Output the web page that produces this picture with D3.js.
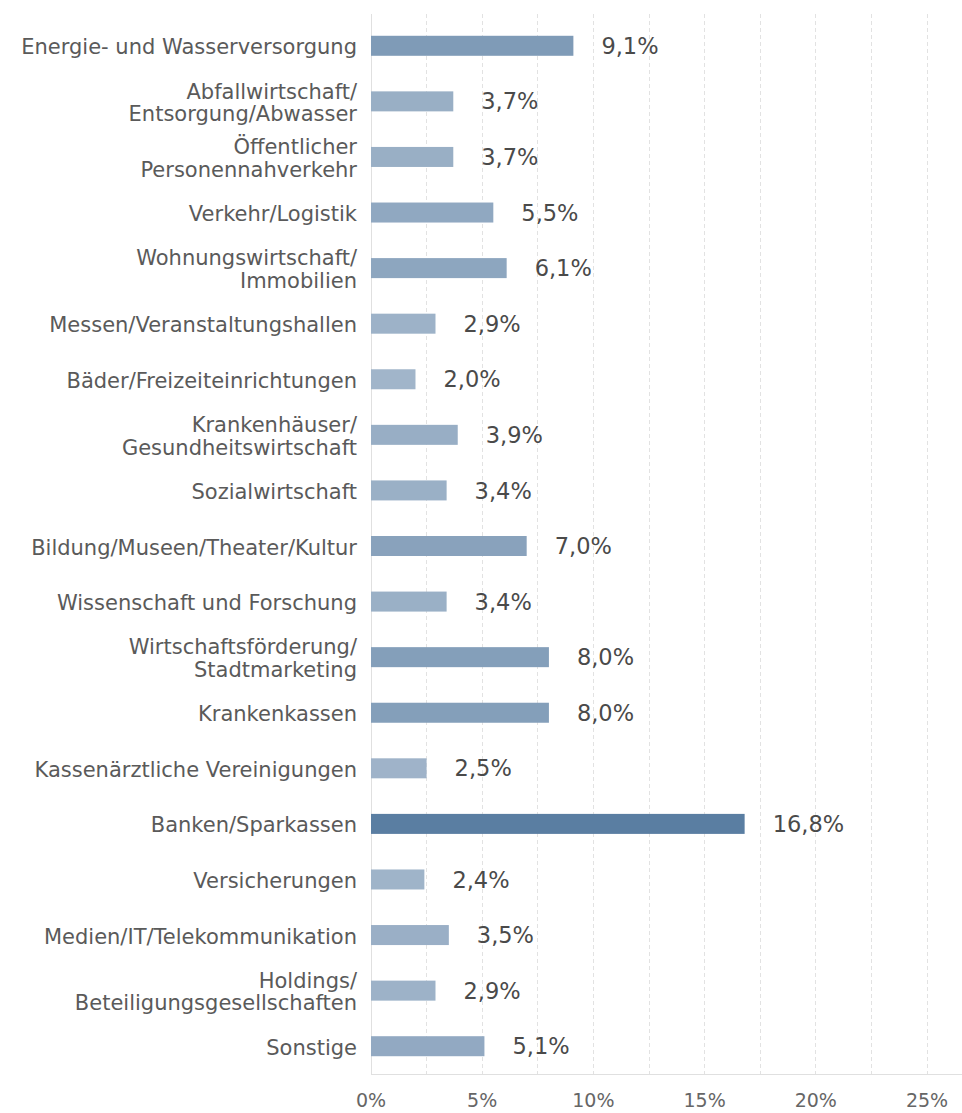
<!DOCTYPE html>
<html><head><meta charset="utf-8">
<script src="https://cdn.jsdelivr.net/npm/d3@7"></script>
<style>body{margin:0;background:#fff;} svg{display:block;}</style>
</head><body>
<svg id="c" width="962" height="1113"></svg>
<script>
const categories = [
  "Energie- und Wasserversorgung",
  "Abfallwirtschaft/\nEntsorgung/Abwasser",
  "Öffentlicher\nPersonennahverkehr",
  "Verkehr/Logistik",
  "Wohnungswirtschaft/\nImmobilien",
  "Messen/Veranstaltungshallen",
  "Bäder/Freizeiteinrichtungen",
  "Krankenhäuser/\nGesundheitswirtschaft",
  "Sozialwirtschaft",
  "Bildung/Museen/Theater/Kultur",
  "Wissenschaft und Forschung",
  "Wirtschaftsförderung/\nStadtmarketing",
  "Krankenkassen",
  "Kassenärztliche Vereinigungen",
  "Banken/Sparkassen",
  "Versicherungen",
  "Medien/IT/Telekommunikation",
  "Holdings/\nBeteiligungsgesellschaften",
  "Sonstige"
];
const values = [9.1, 3.7, 3.7, 5.5, 6.1, 2.9, 2.0, 3.9, 3.4, 7.0, 3.4, 8.0, 8.0, 2.5, 16.8, 2.4, 3.5, 2.9, 5.1];
const tickValues = [0, 5, 10, 15, 20, 25];
const gridValues = [2.5, 5, 7.5, 10, 12.5, 15, 17.5, 20, 22.5, 25];

const FONT = "'DejaVu Sans', 'Open Sans', sans-serif";
const svg = d3.select("#c");
const m = {left: 371, right: 962, top: 18, bottom: 1074};

const x = d3.scaleLinear().domain([0, 25]).range([m.left, 927]);
const y = d3.scaleBand().domain(categories).range([m.top, m.bottom]).paddingInner(0.64).paddingOuter(0.32);
const color = d3.scaleLinear().domain([d3.min(values), d3.max(values)]).range(["#a1b5ca", "#5a7ea2"]);

const data = categories.map((c, i) => ({c, v: values[i]}));

// grid
svg.append("g").selectAll("line").data(gridValues).join("line")
  .attr("x1", d => x(d)).attr("x2", d => x(d))
  .attr("y1", 14).attr("y2", m.bottom)
  .attr("stroke", "#e2e2e2").attr("stroke-width", 1).attr("stroke-dasharray", "4,3")
  .attr("shape-rendering", "crispEdges");
// zero line & bottom line
svg.append("line").attr("x1", x(0)).attr("x2", x(0)).attr("y1", 14).attr("y2", m.bottom)
  .attr("stroke", "#e0e0e0").attr("shape-rendering", "crispEdges");
svg.append("line").attr("x1", x(0)).attr("x2", m.right).attr("y1", m.bottom).attr("y2", m.bottom)
  .attr("stroke", "#e0e0e0").attr("shape-rendering", "crispEdges");

// bars
svg.append("g").selectAll("rect").data(data).join("rect")
  .attr("x", x(0)).attr("y", d => y(d.c)).attr("width", d => x(d.v) - x(0)).attr("height", y.bandwidth())
  .attr("fill", d => color(d.v));

// value labels
svg.append("g").selectAll("text").data(data).join("text")
  .attr("x", d => x(d.v) + 28).attr("y", d => y(d.c) + y.bandwidth() / 2)
  .attr("dy", "0.36em")
  .attr("font-family", FONT).attr("font-size", 22.5).attr("fill", "#4a4a4a")
  .text(d => d.v.toFixed(1).replace(".", ",") + "%");

// category labels
const cl = svg.append("g").selectAll("text").data(data).join("text")
  .attr("text-anchor", "end")
  .attr("font-family", FONT).attr("font-size", 21).attr("fill", "#5a5a5a");
cl.each(function(d) {
  const lines = d.c.split("\n");
  const cy = y(d.c) + y.bandwidth() / 2;
  const lh = 22.5;
  const t = d3.select(this);
  lines.forEach((ln, i) => {
    t.append("tspan").attr("x", 357)
      .attr("y", cy + 1 + (i - (lines.length - 1) / 2) * lh)
      .attr("dy", "0.36em").text(ln);
  });
});

// x axis tick labels
svg.append("g").selectAll("text").data(tickValues).join("text")
  .attr("x", d => x(d)).attr("y", 1100).attr("dy", "0.36em")
  .attr("text-anchor", "middle")
  .attr("font-family", FONT).attr("font-size", 19).attr("fill", "#666")
  .text(d => d + "%");
</script>
</body></html>
